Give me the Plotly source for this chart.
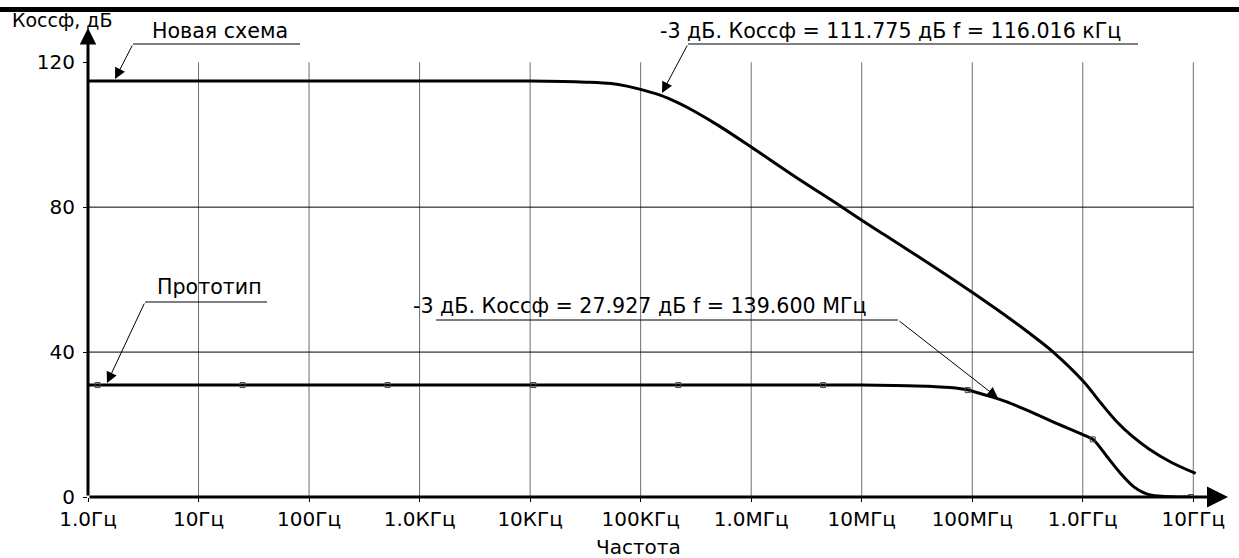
import numpy as np
import plotly.graph_objects as go

# ---------------- data ----------------
tick_freqs = [1, 10, 100, 1e3, 1e4, 1e5, 1e6, 1e7, 1e8, 1e9, 1e10]
tick_labels = ["1.0Гц", "10Гц", "100Гц", "1.0КГц", "10КГц", "100КГц",
               "1.0МГц", "10МГц", "100МГц", "1.0ГГц", "10ГГц"]
y_ticks = [0, 40, 80, 120]

new_f = [1, 100, 1e4, 2e4, 3.2e4, 5.4e4, 7.5e4, 1e5, 1.5e5, 2.14e5, 3.0e5,
         5.2e5, 1e6, 2.5e6, 6.5e6, 1e7, 1.58e7, 3.9e7, 1.02e8, 2.24e8,
         3.16e8, 5.4e8, 1.02e9, 1.45e9, 2.0e9, 2.8e9, 4.0e9, 6.3e9, 1.05e10]
new_db = [114.8, 114.8, 114.8, 114.7, 114.5, 114.1, 113.4, 112.5, 110.9,
          108.9, 106.6, 102.3, 96.6, 88.4, 80.2, 76.4, 72.5, 64.8, 56.3,
          49.0, 45.6, 40.0, 31.8, 26.0, 21.0, 16.8, 13.2, 9.6, 6.5]

proto_f = [1, 100, 1e4, 1e6, 1e7, 2e7, 4e7, 6.3e7, 9e7, 1.396e8, 2.0e8,
           3.16e8, 5.5e8, 1.02e9, 1.26e9, 1.66e9, 2.2e9, 2.9e9,
           3.5e9, 4.2e9, 6.3e9, 9.5e9]
proto_db = [30.9, 30.9, 30.9, 30.9, 30.9, 30.8, 30.6, 30.2, 29.6, 27.9,
            26.4, 23.9, 20.6, 17.1, 15.7, 11.1, 6.5, 2.8, 1.3, 0.5,
            0.05, 0.0]

proto_mark_f = [1.22, 25, 513, 1.07e4, 2.19e5, 4.47e6, 9.1e7, 1.23e9, 9.5e9]
proto_mark_db = [30.9, 30.9, 30.9, 30.9, 30.9, 30.9, 29.5, 15.9, 0.0]

label_new = "Новая схема"
label_proto = "Прототип"
label_new_3db = "-3 дБ. Коссф = 111.775 дБ f = 116.016 кГц"
label_proto_3db = "-3 дБ. Коссф = 27.927 дБ f = 139.600 МГц"
y_title = "Коссф, дБ"
x_title = "Частота"

# ---------------- geometry ----------------
W, H = 1239, 558
ML, MR, MT, MB = 88, 7, 26, 61
XR = [0, 10.35]
YR = [0, 130]
PW, PH = W - ML - MR, H - MT - MB


def dx(px):  # pixel -> data x (log10 f)
    return XR[0] + (px - ML) / PW * (XR[1] - XR[0])


def dy(py):  # pixel -> data y
    return YR[0] + (H - MB - py) / PH * (YR[1] - YR[0])


def pxp(px):
    return (px - ML) / PW


def pyp(py):
    return (H - MB - py) / PH


FONT = "DejaVu Sans"
FS = 20

fig = go.Figure()

fig.add_trace(go.Scatter(
    x=np.log10(new_f), y=new_db, mode="lines",
    line=dict(color="black", width=3, shape="spline", smoothing=0.9),
    hoverinfo="skip", showlegend=False))
fig.add_trace(go.Scatter(
    x=np.log10(proto_f), y=proto_db, mode="lines",
    line=dict(color="black", width=3, shape="spline", smoothing=0.6),
    hoverinfo="skip", showlegend=False))
fig.add_trace(go.Scatter(
    x=np.log10(proto_mark_f), y=proto_mark_db, mode="markers",
    marker=dict(symbol="square-open", size=5, color="#444",
                line=dict(width=1, color="#444")),
    hoverinfo="skip", showlegend=False))

shapes = []
# vertical grid (decades)
for f in tick_freqs[1:]:
    shapes.append(dict(type="line", xref="x", yref="y",
                       x0=np.log10(f), x1=np.log10(f), y0=0, y1=120,
                       line=dict(color="#6e6e6e", width=1), layer="below"))
# horizontal grid
for v in y_ticks[1:-1]:
    shapes.append(dict(type="line", xref="x", yref="y",
                       x0=0, x1=np.log10(tick_freqs[-1]), y0=v, y1=v,
                       line=dict(color="black", width=1), layer="below"))
# top black bar
shapes.append(dict(type="rect", xref="paper", yref="paper",
                   x0=pxp(0), x1=pxp(W), y0=pyp(12), y1=pyp(7),
                   fillcolor="black", line=dict(width=0)))
# underlines of labels
for (x0, x1, yy) in [(133, 300, 44), (688, 1138, 44), (145, 267, 302),
                     (436, 898, 320)]:
    shapes.append(dict(type="line", xref="x", yref="y",
                       x0=dx(x0), x1=dx(x1), y0=dy(yy), y1=dy(yy),
                       line=dict(color="black", width=1)))

ann = []
# axis arrows
ann.append(dict(x=0, y=dy(28), ax=0, ay=0, xref="x", yref="y",
                axref="x", ayref="y", text="", showarrow=True,
                arrowhead=2, arrowsize=1.1, arrowwidth=3, arrowcolor="black"))
ann.append(dict(x=dx(1228), y=0, ax=0, ay=0, xref="x", yref="y",
                axref="x", ayref="y", text="", showarrow=True,
                arrowhead=2, arrowsize=1.4, arrowwidth=3, arrowcolor="black"))
# leader arrows
for (tx, ty, hx, hy) in [(115, 79, 133, 44), (662, 93, 688, 44),
                         (107, 383, 145, 302), (998, 398, 898, 320)]:
    ann.append(dict(x=dx(tx), y=dy(ty), ax=dx(hx), ay=dy(hy), xref="x",
                    yref="y", axref="x", ayref="y", text="", showarrow=True,
                    arrowhead=2, arrowsize=2.2, arrowwidth=1,
                    arrowcolor="black"))
# labels
for (txt, cx, cy) in [(label_new, 220, 31), (label_new_3db, 891, 31),
                      (label_proto, 209, 287), (label_proto_3db, 640, 306)]:
    ann.append(dict(x=pxp(cx), y=pyp(cy), xref="paper", yref="paper",
                    text=txt, showarrow=False, xanchor="center",
                    yanchor="middle", font=dict(family=FONT, size=FS + 0.6,
                                                color="black")))
ann.append(dict(x=pxp(10), y=pyp(20), xref="paper", yref="paper",
                text=y_title, showarrow=False, xanchor="left",
                yanchor="middle", font=dict(family=FONT, size=FS - 1,
                                            color="black")))
ann.append(dict(x=pxp(638), y=pyp(547), xref="paper", yref="paper",
                text=x_title, showarrow=False, xanchor="center",
                yanchor="middle", font=dict(family=FONT, size=FS,
                                            color="black")))

fig.update_layout(
    width=W, height=H,
    margin=dict(l=ML, r=MR, t=MT, b=MB, pad=0),
    paper_bgcolor="white", plot_bgcolor="white",
    shapes=shapes, annotations=ann,
    font=dict(family=FONT, size=FS, color="black"),
    xaxis=dict(range=XR, showgrid=False, zeroline=False, showline=False,
               tickmode="array", tickvals=list(np.log10(tick_freqs)),
               ticktext=tick_labels, ticks="outside", ticklen=4,
               tickwidth=1, tickcolor="black", fixedrange=True,
               tickfont=dict(family=FONT, size=FS)),
    yaxis=dict(range=YR, showgrid=False, zeroline=False, showline=False,
               tickmode="array", tickvals=y_ticks,
               ticktext=[str(v) for v in y_ticks], ticks="outside",
               ticklen=4, tickwidth=1, tickcolor="black", fixedrange=True,
               ticklabelstandoff=4,
               tickfont=dict(family=FONT, size=FS)),
    showlegend=False,
)

fig.write_html(
    "out.html", config={"displayModeBar": False},
    post_script="document.body.style.margin='0';"
                "document.body.style.padding='0';"
                "document.body.style.overflow='hidden';")
